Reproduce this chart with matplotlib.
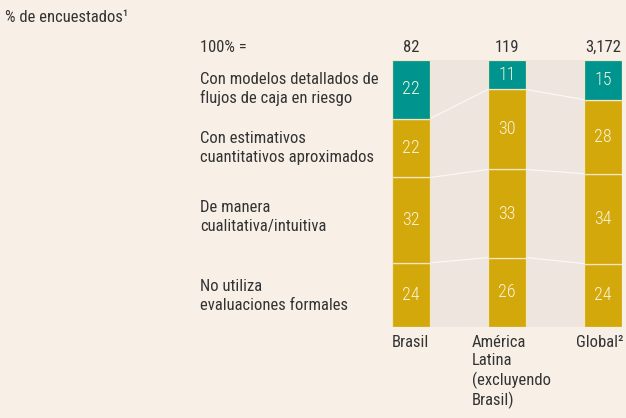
import matplotlib.pyplot as plt
import numpy as np

# data (bottom -> top segments)
groups = ["Brasil", "América\nLatina\n(excluyendo\nBrasil)", "Global²"]
totals = ["82", "119", "3,172"]
segments = ["No utiliza\nevaluaciones formales",
            "De manera\ncualitativa/intuitiva",
            "Con estimativos\ncuantitativos aproximados",
            "Con modelos detallados de\nflujos de caja en riesgo"]
no_formal = [24, 26, 24]
qualitative = [32, 33, 34]
approx = [22, 30, 28]
detailed = [22, 11, 15]

BG = "#F8F0E7"
BAND = "#EEE6DE"
GOLD = "#D3A80A"
TEAL = "#00948F"
TXT = "#333333"
NUM = "#FBF3DC"
FONT = ["Roboto Condensed", "DejaVu Sans"]

plt.rcParams["font.family"] = FONT

W, H = 626, 418
fig = plt.figure(figsize=(W / 100, H / 100), dpi=100, facecolor=BG)

# axes placed in pixel terms
L, R, T, B = 392, 622, 60, 327
ax = fig.add_axes([L / W, (H - B) / H, (R - L) / W, (B - T) / H])
ax.set_facecolor(BG)

raw = [no_formal, qualitative, approx, detailed]
vals = np.array(raw, dtype=float)
vals = vals / vals.sum(axis=0) * 100  # normalize so each bar fills to 100
cum = np.vstack([np.zeros(3), np.cumsum(vals, axis=0)])
colors = [GOLD, GOLD, GOLD, TEAL]
x = np.arange(3)
bw = 38 / 96

ax.set_xlim(-bw / 2, 2 + bw / 2)
ax.set_ylim(0, 100)
ax.axis("off")

# grey bands between bars
for i in range(2):
    ax.axvspan(i + bw / 2, i + 1 - bw / 2, color=BAND, lw=0, zorder=0)

for k in range(4):
    ax.bar(x, vals[k], bw, bottom=cum[k], color=colors[k],
           edgecolor="#F4E7C4", linewidth=0.9, zorder=2)
    for i in range(3):
        ax.text(x[i], cum[k, i] + vals[k, i] / 2, str(raw[k][i]),
                ha="center", va="center", color=NUM, fontsize=13,
                fontweight="light", zorder=3)

# connector lines between segment boundaries
for k in range(1, 4):
    for i in range(2):
        ax.plot([i + bw / 2, i + 1 - bw / 2], [cum[k, i], cum[k, i + 1]],
                color="white", lw=0.8, alpha=0.75, zorder=1)


def px(xp, yp):
    return xp / W, 1 - yp / H


fs = 12
fig.text(*px(5, 18), "% de encuestados¹", ha="left", va="center",
         fontsize=fs, color=TXT)
fig.text(*px(200, 47), "100% =", ha="left", va="center", fontsize=fs, color=TXT)
centers = [411, 507, 603]
for c, t in zip(centers, totals):
    fig.text(*px(c, 47), t, ha="center", va="center", fontsize=fs, color=TXT)

label_y = [296, 217, 148, 89]
for s, yy in zip(segments, label_y):
    fig.text(*px(200, yy), s, ha="left", va="center", fontsize=fs,
             color=TXT, linespacing=1.3)

label_x = [392, 472, 576]
for g, xx in zip(groups, label_x):
    fig.text(*px(xx, 335), g, ha="left", va="top", fontsize=fs,
             color=TXT, linespacing=1.25)

fig.savefig("out.png", dpi=100, facecolor=BG)
